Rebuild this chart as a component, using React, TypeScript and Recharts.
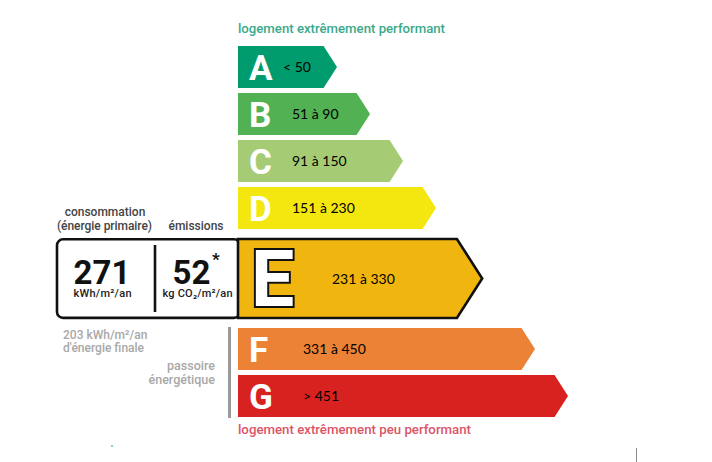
import React from "react";
import { BarChart, Bar, XAxis, YAxis } from "recharts";

// energy classes, top to bottom
const classes = ["A", "B", "C", "D", "E", "F", "G"];
const ranges = ["< 50", "51 à 90", "91 à 150", "151 à 230", "231 à 330", "331 à 450", "> 451"];
// arrow length in steps (E is drawn bigger because it is the current class)
const arrowSteps = [3, 4, 5, 6, 7.4, 9, 10];
// how many rows each class takes vertically
const rowSpans = [1, 1, 1, 1, 2, 1, 1];
const colors = ["#009c6d", "#52b153", "#a5cc74", "#f4e70f", "#f0b50f", "#eb8235", "#d7221f"];
const current = "E";

const consumption = 271;
const emissions = 52;
const finalEnergy = 203;

const W = 712;
const H = 462;
const MARGIN = { top: 43, right: 144, bottom: 43, left: 238 };

// spacer rows keep room for the taller current class
const rows = classes.flatMap((cls, i) => {
	const row = { row: cls, cls, range: ranges[i], steps: arrowSteps[i], span: rowSpans[i], color: colors[i] };
	const extra = Array.from({ length: rowSpans[i] - 1 }, (_, k) => ({ row: `${cls}${k}`, cls: "", steps: null }));
	return [row, ...extra];
});

const BAND = (H - MARGIN.top - MARGIN.bottom) / rows.length;
const BIG_H = 79;

// text offset from the left of each arrow
const textDx: Record<string, number> = { A: 45, B: 54, C: 54, D: 54, E: 94, F: 65, G: 65 };

const ArrowShape = (props: any) => {
	const { x, y, width, height, payload } = props;
	if (!payload || !payload.cls) return null;
	const isCurrent = payload.cls === current;
	const cy = y + height / 2 + ((payload.span - 1) * BAND) / 2;
	const h = isCurrent ? BIG_H : height;
	const top = cy - h / 2;
	const tip = h * 0.32;
	const d = `M${x},${top} L${x + width - tip},${top} L${x + width},${cy} L${x + width - tip},${top + h} L${x},${top + h} Z`;
	return (
		<g>
			<path
				d={d}
				fill={payload.color}
				stroke={isCurrent ? "#111" : "none"}
				strokeWidth={isCurrent ? 2.6 : 0}
				strokeLinejoin="miter"
			/>
			<text
				x={x + (isCurrent ? 13 : 11)}
				y={cy + (isCurrent ? 27 : 12.5)}
				fontFamily="Roboto, sans-serif"
				fontWeight={700}
				fontSize={isCurrent ? 77 : 35}
				fill="#fff"
				stroke={isCurrent ? "#111" : "none"}
				strokeWidth={isCurrent ? 4 : 0}
				style={{ paintOrder: "stroke" }}
			>
				{payload.cls}
			</text>
			<text
				x={x + textDx[payload.cls]}
				y={cy + 5}
				fontFamily="Lato, sans-serif"
				fontSize={14}
				fill="#000"
			>
				{payload.range}
			</text>
		</g>
	);
};

const label = { fontFamily: "Roboto, sans-serif", fontWeight: 500 } as const;

export default function App() {
	return (
		<div style={{ position: "absolute", left: 0, top: 0, width: W, height: H, background: "#fff" }}>
			<BarChart width={W} height={H} data={rows} layout="vertical" margin={MARGIN}>
				<XAxis type="number" domain={[0, 10]} hide />
				<YAxis type="category" dataKey="row" hide />
				<Bar dataKey="steps" barSize={42} shape={ArrowShape} isAnimationActive={false} />

				<g>
					<text x={238} y={33} fontSize={13} fill="#3aa98b" textLength={207} lengthAdjust="spacingAndGlyphs" {...label}>
						logement extrêmement performant
					</text>
					<text x={238} y={434} fontSize={13} fill="#dc5466" textLength={233} lengthAdjust="spacingAndGlyphs" {...label}>
						logement extrêmement peu performant
					</text>

					<text x={105} y={216} fontSize={12} fill="#444" textAnchor="middle" {...label}>
						consommation
					</text>
					<text x={104.5} y={230} fontSize={12} fill="#444" textAnchor="middle" textLength={95} {...label}>
						(énergie primaire)
					</text>
					<text x={196} y={230} fontSize={12} fill="#444" textAnchor="middle" {...label}>
						émissions
					</text>

					<rect x={57} y={239.3} width={183} height={78.6} rx={6} fill="#fff" stroke="#111" strokeWidth={2.6} />
					<line x1={155} x2={155} y1={245} y2={312} stroke="#111" strokeWidth={2.6} />
					<text x={102} y={284} fontSize={33} fontWeight={700} fontFamily="Roboto, sans-serif" fill="#111" textAnchor="middle">
						{consumption}
					</text>
					<text x={102.5} y={297} fontSize={11} fill="#222" textAnchor="middle" textLength={58} {...label}>
						kWh/m²/an
					</text>
					<text x={191.5} y={284} fontSize={33} fontWeight={700} fontFamily="Roboto, sans-serif" fill="#111" textAnchor="middle">
						{emissions}
					</text>
					<text x={212} y={265} fontSize={17} fontWeight={700} fontFamily="Roboto, sans-serif" fill="#111">
						*
					</text>
					<text x={197.5} y={297} fontSize={11} fill="#222" textAnchor="middle" textLength={70} {...label}>
						kg CO₂/m²/an
					</text>

					<text x={63} y={339} fontSize={12} fill="#a8a8a8" {...label}>
						{finalEnergy} kWh/m²/an
					</text>
					<text x={63} y={352} fontSize={12} fill="#a8a8a8" {...label}>
						d'énergie finale
					</text>
					<text x={215} y={370} fontSize={12.5} fill="#a8a8a8" textAnchor="end" {...label}>
						passoire
					</text>
					<text x={215} y={384} fontSize={12.5} fill="#a8a8a8" textAnchor="end" {...label}>
						énergétique
					</text>
					<line x1={229.5} x2={229.5} y1={327} y2={418} stroke="#9a9a9a" strokeWidth={3} />

					<circle cx={112} cy={446} r={1} fill="#5cc7a8" />
					<line x1={636.5} x2={636.5} y1={448} y2={462} stroke="#888" strokeWidth={1} />
				</g>
			</BarChart>
		</div>
	);
}
